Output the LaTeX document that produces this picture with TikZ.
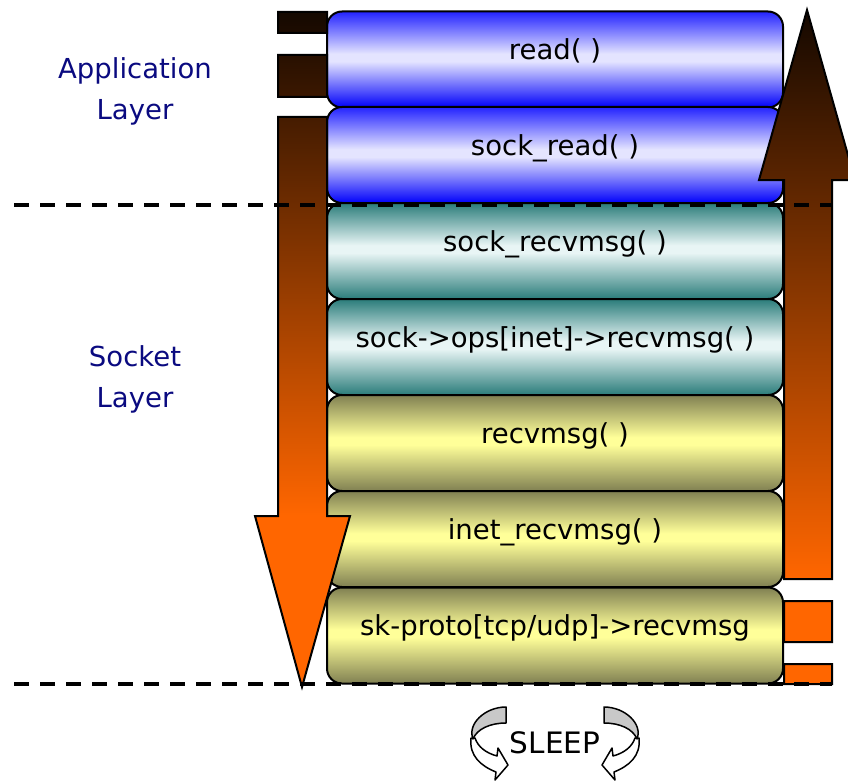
\documentclass[tikz,border=0pt]{standalone}
\usepackage{fontspec}
\setmainfont{DejaVu Sans}

\definecolor{arrowdark}{RGB}{20,8,0}
\definecolor{arroworange}{RGB}{255,102,0}
\definecolor{appedge}{RGB}{35,35,255}
\definecolor{appedgelow}{RGB}{0,0,250}
\definecolor{appmid}{RGB}{228,228,255}
\definecolor{sockedge}{RGB}{42,124,122}
\definecolor{sockmid}{RGB}{232,245,245}
\definecolor{protoedge}{RGB}{128,128,82}
\definecolor{protomid}{RGB}{255,255,153}
\definecolor{layertext}{RGB}{10,10,128}
\definecolor{loopgray}{RGB}{200,200,200}

% vertical ramps for the two flow arrows (25bp..75bp spans the path)
\pgfdeclareverticalshading{downflow}{100bp}{color(0bp)=(arroworange); color(37.7bp)=(arroworange); color(75bp)=(arrowdark); color(100bp)=(arrowdark)}
\pgfdeclareverticalshading{upflow}{100bp}{color(0bp)=(arroworange); color(32.8bp)=(arroworange); color(75bp)=(arrowdark); color(100bp)=(arrowdark)}

% box fills: dark at the rims, light in the middle
\pgfdeclareverticalshading{appfill}{100bp}{color(0bp)=(appedgelow); color(25bp)=(appedgelow); color(49bp)=(appmid); color(53bp)=(appmid); color(75bp)=(appedge); color(100bp)=(appedge)}
\pgfdeclareverticalshading{sockfill}{100bp}{color(0bp)=(sockedge); color(25bp)=(sockedge); color(49bp)=(sockmid); color(53bp)=(sockmid); color(75bp)=(sockedge); color(100bp)=(sockedge)}
\pgfdeclareverticalshading{protofill}{100bp}{color(0bp)=(protoedge); color(25bp)=(protoedge); color(49bp)=(protomid); color(53bp)=(protomid); color(75bp)=(protoedge); color(100bp)=(protoedge)}

\newcommand{\boxfont}{\fontsize{27.5pt}{33pt}\selectfont}
\newcommand{\layerfont}{\fontsize{27.5pt}{41pt}\selectfont}

% one half of the circular "sleep" symbol, drawn on the left side
\newcommand{\sleeploop}{%
  \filldraw[fill=white, draw=black, line width=1.5pt, line join=round]
    (471,738) .. controls (469,756) and (481,766) .. (496,772)
    -- (495,780) -- (508,765) -- (498,748) -- (497,756)
    .. controls (486,753) and (478,747) .. (475,738) -- cycle;
  \filldraw[fill=loopgray, draw=black, line width=1.5pt, line join=round]
    (506,707) -- (506,723) .. controls (490,723) and (477,729) .. (473,739)
    .. controls (467,724) and (485,707) .. (506,707) -- cycle;
}

\begin{document}
\begin{tikzpicture}[x=1pt, y=-1pt,
  box/.style={draw=black, line width=2pt, rounded corners=15pt,
    minimum width=456pt, minimum height=96pt, inner sep=0pt,
    text height=8pt, text depth=8pt, font=\boxfont},
  appbox/.style={box, shading=appfill},
  sockbox/.style={box, shading=sockfill},
  protobox/.style={box, shading=protofill},
  layerlabel/.style={text=layertext, font=\layerfont, align=center, inner sep=0pt},
  flowarrow/.style={draw=black, line width=2pt, line join=miter},
  layerline/.style={draw=black, line width=3.5pt, dash pattern=on 15pt off 11pt}
]
\useasboundingbox (0,0) rectangle (848,781);

% call chain
\node[appbox]   (read)     at (555,59.5)  {read( )};
\node[appbox]   (sockread) at (555,155)   {sock\_read( )};
\node[sockbox]  (sockrecv) at (555,251)   {sock\_recvmsg( )};
\node[sockbox]  (opsrecv)  at (555,347)   {sock->ops[inet]->recvmsg( )};
\node[protobox] (recv)     at (555,443)   {recvmsg( )};
\node[protobox] (inetrecv) at (555,539)   {inet\_recvmsg( )};
\node[protobox] (skproto)  at (555,635.5) {sk-proto[tcp/udp]->recvmsg};

% downward flow on the left
\path[flowarrow, shading=downflow]
  (278,12) rectangle (327,33)
  (278,55) rectangle (327,97)
  (278,117) -- (327,117) -- (327,516) -- (350,516) -- (302,687)
  -- (255,516) -- (278,516) -- cycle;

% upward flow on the right
\path[flowarrow, shading=upflow]
  (784,579) -- (784,180) -- (759,180) -- (807,10) -- (855,180)
  -- (832,180) -- (832,579) -- cycle
  (784,601) rectangle (832,642)
  (784,664) rectangle (832,684);

% layer boundaries
\draw[layerline] (14,205) -- (832,205);
\draw[layerline] (14,684) -- (832,684);

% layer names
\node[layerlabel] (applayer) at (135,91.3) {Application\\Layer};
\node[layerlabel] (socklayer) at (135,379.3) {Socket\\Layer};

% sleep marker
\node[anchor=base, inner sep=0pt, font=\fontsize{29.5pt}{35pt}\selectfont] (sleep) at (555,753) {SLEEP};
\sleeploop
\begin{scope}[xshift=1110pt, xscale=-1]
  \sleeploop
\end{scope}
\end{tikzpicture}
\end{document}
